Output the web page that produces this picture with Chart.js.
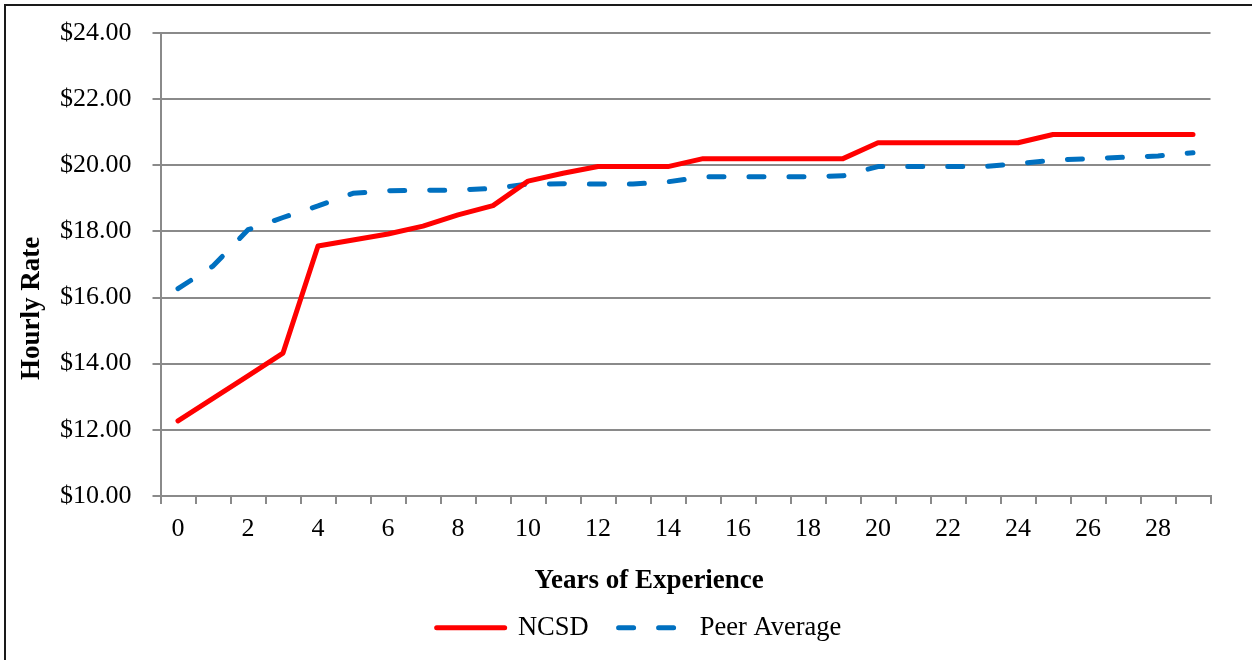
<!DOCTYPE html>
<html>
<head>
<meta charset="utf-8">
<script src="https://cdn.jsdelivr.net/npm/chart.js@4/dist/chart.umd.min.js"></script>
<style>
  html, body { margin: 0; padding: 0; background: #ffffff; }
  #wrap { width: 1252px; height: 660px; position: relative; }
</style>
</head>
<body>
<div id="wrap"><canvas id="c" width="1252" height="660"></canvas></div>
<script>
const categories = ['0','1','2','3','4','5','6','7','8','9','10','11','12','13','14','15','16','17','18','19','20','21','22','23','24','25','26','27','28','29'];
const ncsd = [12.27, 12.95, 13.63, 14.32, 17.56, 17.74, 17.92, 18.16, 18.50, 18.78, 19.52, 19.76, 19.96, 19.96, 19.96, 20.20, 20.20, 20.20, 20.20, 20.20, 20.68, 20.68, 20.68, 20.68, 20.68, 20.93, 20.93, 20.93, 20.93, 20.93];
const peerAverage = [16.27, 16.95, 18.05, 18.42, 18.77, 19.15, 19.23, 19.24, 19.25, 19.30, 19.43, 19.44, 19.43, 19.43, 19.50, 19.65, 19.65, 19.65, 19.65, 19.68, 19.96, 19.96, 19.96, 19.96, 20.05, 20.15, 20.20, 20.24, 20.28, 20.38];
const yTicks = { min: 10, max: 24, step: 2 };
const seriesNames = ['NCSD', 'Peer Average'];
const axisTitles = { x: 'Years of Experience', y: 'Hourly Rate' };

const SERIF = "'Liberation Serif', 'Times New Roman', serif";
const GRID = '#8a8a8a';

const framePlugin = {
  id: 'frame',
  afterDraw(chart) {
    const ctx = chart.ctx;
    ctx.save();
    ctx.strokeStyle = '#1a1a1a';
    ctx.lineWidth = 2;
    ctx.strokeRect(5, 5, 1300, 700);
    ctx.restore();
  }
};

new Chart(document.getElementById('c'), {
  type: 'line',
  data: {
    labels: categories,
    datasets: [
      {
        label: seriesNames[0],
        data: ncsd,
        borderColor: '#ff0000',
        backgroundColor: '#ff0000',
        borderWidth: 5,
        borderCapStyle: 'round',
        borderJoinStyle: 'round',
        pointRadius: 0,
        tension: 0
      },
      {
        label: seriesNames[1],
        data: peerAverage,
        borderColor: '#0070c0',
        backgroundColor: '#0070c0',
        borderWidth: 5,
        borderDash: [15, 25],
        borderCapStyle: 'round',
        borderJoinStyle: 'round',
        pointRadius: 0,
        tension: 0
      }
    ]
  },
  options: {
    responsive: false,
    animation: false,
    layout: { padding: { left: 6, right: -20, top: 33, bottom: 9 } },
    plugins: {
      tooltip: { enabled: false },
      title: {
        display: true,
        text: '\u00a0\u00a0\u00a0' + axisTitles.x,
        position: 'bottom',
        weight: 500,
        color: '#000',
        font: { family: SERIF, size: 27, weight: 'bold' },
        padding: { top: 10, bottom: -13 }
      },
      legend: {
        position: 'bottom',
        labels: {
          usePointStyle: true,
          pointStyle: 'line',
          pointStyleWidth: 68,
          color: '#000',
          font: { family: SERIF, size: 26.5 },
          padding: 30,
          generateLabels(chart) {
            const items = Chart.defaults.plugins.legend.labels.generateLabels(chart);
            items.forEach(it => {
              const ds = chart.data.datasets[it.datasetIndex];
              it.lineDash = ds.borderDash || [];
              it.lineCap = 'round';
              it.lineWidth = ds.borderWidth;
              it.strokeStyle = ds.borderColor;
            });
            return items;
          }
        }
      }
    },
    scales: {
      x: {
        type: 'category',
        offset: true,
        grid: {
          display: true,
          offset: true,
          drawOnChartArea: false,
          drawTicks: true,
          tickLength: 8,
          color: GRID,
          lineWidth: 2
        },
        border: { display: true, color: GRID, width: 2 },
        ticks: {
          autoSkip: false,
          maxRotation: 0,
          minRotation: 0,
          color: '#000',
          padding: 10,
          font: { family: SERIF, size: 26 },
          callback: function(v, i) { return i % 2 === 0 ? categories[i] : ''; }
        }
      },
      y: {
        min: yTicks.min,
        max: yTicks.max,
        afterFit(scale) { scale.width = 154.5; scale.paddingTop = 0; scale.paddingBottom = 0; },
        grid: {
          color: GRID,
          lineWidth: 2,
          tickLength: 8,
          drawTicks: true
        },
        border: { display: true, color: GRID, width: 2 },
        ticks: {
          stepSize: yTicks.step,
          color: '#000',
          padding: 21,
          font: { family: SERIF, size: 26 },
          callback: function(v) { return '$' + Number(v).toFixed(2); }
        },
        title: {
          display: true,
          text: axisTitles.y + '\u00a0'.repeat(13),
          color: '#000',
          font: { family: SERIF, size: 27, weight: 'bold' },
          padding: { top: 10, bottom: 0 }
        }
      },
      yRight: {
        position: 'right',
        display: true,
        afterFit(scale) { scale.width = 61.5; scale.paddingTop = 0; scale.paddingBottom = 0; },
        grid: { display: false, drawTicks: false },
        border: { display: false },
        ticks: { display: false },
        title: { display: false }
      }
    }
  },
  plugins: [framePlugin]
});
</script>
</body>
</html>
